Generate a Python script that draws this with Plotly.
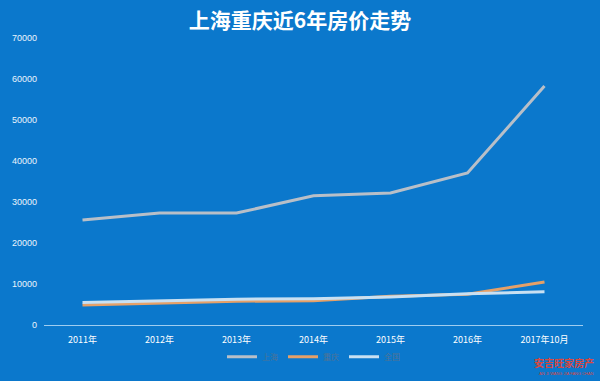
import plotly.graph_objects as go

categories = ["2011年", "2012年", "2013年", "2014年", "2015年", "2016年", "2017年10月"]
shanghai = [25600, 27300, 27300, 31500, 32200, 37100, 58300]
chongqing = [4900, 5300, 5800, 5900, 7000, 7500, 10500]
national = [5500, 5900, 6300, 6400, 6800, 7600, 8100]
series_names = ["上海", "重庆", "全国"]
tick_vals = [0, 10000, 20000, 30000, 40000, 50000, 60000, 70000]

bg = "#0b78cc"
fig = go.Figure()
for name, vals, col in zip(series_names, [shanghai, chongqing, national],
                           ["#b8bfc8", "#e5a068", "#c9e0f2"]):
    fig.add_trace(go.Scatter(x=categories, y=vals, name=name, mode="lines",
                             line=dict(color=col, width=3)))

fig.update_layout(
    width=600, height=381,
    paper_bgcolor=bg, plot_bgcolor=bg,
    margin=dict(l=44, r=17, t=38, b=56, autoexpand=False),
    title=dict(text="<b>上海重庆近6年房价走势</b>", x=0.5, xanchor="center", y=0.947, yanchor="middle",
               font=dict(family="Noto Sans CJK SC", size=21, color="white")),
    font=dict(family="Liberation Sans", color="white", size=9),
    showlegend=True,
    legend=dict(orientation="h", x=0.5, xanchor="center", y=-0.06, yanchor="top",
                font=dict(color="#4f7396", size=8, family="Noto Sans CJK SC"),
                itemwidth=30, bgcolor="rgba(0,0,0,0)"),
    xaxis=dict(type="category", range=[-0.5, 6.5], showgrid=False, showline=True,
               linecolor="#9fcdf0", linewidth=1.2, ticks="", ticklabelstandoff=6,
               automargin=False,
               tickfont=dict(color="white", size=9, family="Noto Sans CJK SC"), fixedrange=True),
    yaxis=dict(range=[0, 70000], tickvals=tick_vals, tickformat="d", showgrid=False, zeroline=False,
               showline=False, ticks="", tickfont=dict(color="#eaf4fc", size=9),
               automargin=False, ticklabelstandoff=6, fixedrange=True),
)
fig.add_annotation(text="<b>安吉旺家房产</b>", xref="paper", yref="paper", x=1.025, y=-0.13,
                   xanchor="right", yanchor="middle", showarrow=False,
                   font=dict(color="#d9473f", size=10, family="Noto Sans CJK SC"))
fig.add_annotation(text="AN JI WANG JIA FANG CHAN", xref="paper", yref="paper", x=1.022, y=-0.168,
                   xanchor="right", yanchor="middle", showarrow=False,
                   font=dict(color="#d9473f", size=4, family="Liberation Sans"))
fig.write_html("out.html", config={"displayModeBar": False})

with open("out.html", encoding="utf-8") as f:
    html = f.read()
html = html.replace("<body>", '<body style="margin:0;padding:0;overflow:hidden">', 1)
with open("out.html", "w", encoding="utf-8") as f:
    f.write(html)
